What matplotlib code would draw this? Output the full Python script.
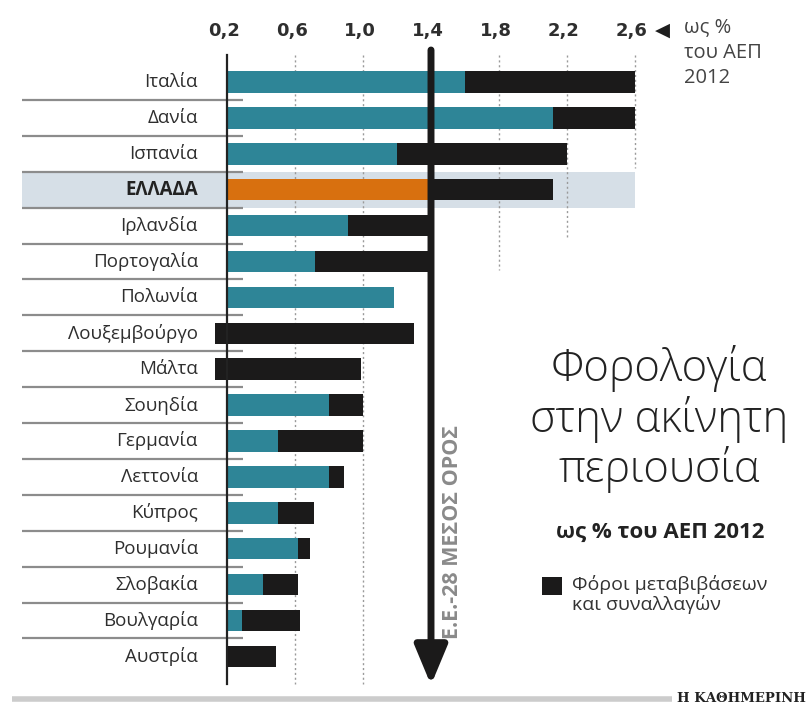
import matplotlib
matplotlib.use("Agg")
import matplotlib.pyplot as plt
from matplotlib.patches import Rectangle
import numpy as np

# ---------------- data ----------------
countries = ["Ιταλία", "Δανία", "Ισπανία", "ΕΛΛΑΔΑ", "Ιρλανδία", "Πορτογαλία",
             "Πολωνία", "Λουξεμβούργο", "Μάλτα", "Σουηδία", "Γερμανία", "Λεττονία",
             "Κύπρος", "Ρουμανία", "Σλοβακία", "Βουλγαρία", "Αυστρία"]
# end of recurrent property tax segment (teal) and total (end of black segment)
recurrent = [1.60, 2.12, 1.20, 1.39, 0.91, 0.72, 1.18, 0.13, 0.13, 0.80, 0.50, 0.80,
             0.50, 0.62, 0.41, 0.29, 0.20]
total = [2.60, 2.60, 2.20, 2.12, 1.41, 1.40, 1.18, 1.30, 0.99, 1.00, 1.00, 0.89,
         0.71, 0.69, 0.62, 0.63, 0.49]
ticks = [0.2, 0.6, 1.0, 1.4, 1.8, 2.2, 2.6]
tick_labels = ["0,2", "0,6", "1,0", "1,4", "1,8", "2,2", "2,6"]
eu_avg = 1.4
highlight = "ΕΛΛΑΔΑ"

TEAL = "#2e8597"
ORANGE = "#d8700f"
BLACK = "#1b1a1a"
BAND = "#d6dfe7"
GREY_LINE = "#8c8c8c"
TXT = "#2e2e2e"

plt.rcParams['font.family'] = ['Open Sans', 'DejaVu Sans']

W, H = 806, 707
fig = plt.figure(figsize=(W / 100, H / 100), dpi=100)
ax = fig.add_axes([0, 0, 1, 1])
ax.axis("off")

X0, PPU = 227.0, 170.0      # pixel of value 0.2, pixels per unit
Y0, PPR = 82.0, 35.9        # pixel of first row centre, pixels per row


def xv(px):
    return 0.2 + (px - X0) / PPU


def yv(px):
    return (px - Y0) / PPR


ax.set_xlim(xv(0), xv(W))
ax.set_ylim(yv(H), yv(0))

n = len(countries)
ypos = np.arange(n)
rec = np.array(recurrent)
tot = np.array(total)
base = 0.2

# highlight band
gi = countries.index(highlight)
ax.add_patch(Rectangle((xv(22), gi - 0.5), xv(635) - xv(22), 1.0,
                       facecolor=BAND, edgecolor="none", zorder=0))

# row separators
for i in range(n - 1):
    ax.plot([xv(22), xv(243)], [i + 0.5, i + 0.5], color=GREY_LINE, lw=1.6,
            zorder=1, solid_capstyle="butt")

# dotted grid lines (each trimmed as in the original)
grid_bottom = {0.6: yv(684), 1.0: yv(684), 1.8: yv(270), 2.2: yv(237), 2.6: yv(168)}
for t, yb in grid_bottom.items():
    ax.plot([t, t], [yv(55), yb], color="#9a9a9a", lw=1.0, ls=(0, (1.5, 2)), zorder=0.5)

# bars
colors = [ORANGE if c == highlight else TEAL for c in countries]
teal_w = np.maximum(rec - base, 0)
ax.barh(ypos, teal_w, left=base, height=0.6, color=colors, zorder=2)
ax.barh(ypos, tot - rec, left=rec, height=0.6, color=BLACK, zorder=2)

# baseline axis
ax.plot([base, base], [yv(55), yv(684)], color="#222222", lw=1.6, zorder=3)

# top tick labels
for t, lab in zip(ticks, tick_labels):
    ax.text(t - 0.02, yv(31), lab, ha="center", va="center", fontsize=13,
            fontweight="bold", color=TXT, family=['DejaVu Sans'])

# small triangle + unit note
ax.text(xv(662), yv(30), "◀", ha="center", va="center", fontsize=14,
        color="#1e1e1e", family=['DejaVu Sans'])
ax.text(xv(684), yv(17), "ως %\nτου ΑΕΠ\n2012", ha="left", va="top", fontsize=14.5,
        color="#444444", linespacing=1.38)

# country labels
for i, c in enumerate(countries):
    bold = c == highlight
    ax.text(xv(198), i, c, ha="right", va="center", fontsize=13.5,
            color="#222222" if bold else TXT,
            fontweight="bold" if bold else "normal")

# EU-28 average arrow
ax.annotate("", xy=(eu_avg, yv(685)), xytext=(eu_avg, yv(50)),
            arrowprops=dict(arrowstyle="-|>,head_width=0.5,head_length=1.2",
                            lw=5, color=BLACK, mutation_scale=20,
                            shrinkA=0, shrinkB=0),
            zorder=4)
ax.text(xv(452), yv(532), "Ε.Ε.-28 ΜΕΣΟΣ ΟΡΟΣ", rotation=90, ha="center",
        va="center", fontsize=15.5, fontweight="bold", color="#8a8a8a")

# title block
ax.text(xv(659), yv(345), "Φορολογία\nστην ακίνητη\nπεριουσία", ha="center",
        va="top", fontsize=31.5, fontweight="light", color="#222222", linespacing=1.1)
ax.text(xv(660), yv(532), "ως % του ΑΕΠ 2012", ha="center", va="center",
        fontsize=16, fontweight="bold", color="#222222")

# legend
ax.add_patch(Rectangle((xv(542), yv(577)), xv(562) - xv(542), yv(595) - yv(577),
                       facecolor=BLACK, edgecolor="none"))
ax.text(xv(572), yv(575), "Φόροι μεταβιβάσεων\nκαι συναλλαγών", ha="left", va="top",
        fontsize=14, color="#333333", linespacing=1.1)

# footer
ax.plot([xv(12), xv(672)], [yv(699), yv(699)], color="#cccccc", lw=4,
        solid_capstyle="butt")
ax.text(xv(806), yv(699), "Η ΚΑΘΗΜΕΡΙΝΗ", ha="right", va="center", fontsize=9.5,
        fontweight="bold", color="#222222", family=['DejaVu Serif'])

fig.savefig("out.png", dpi=100)
